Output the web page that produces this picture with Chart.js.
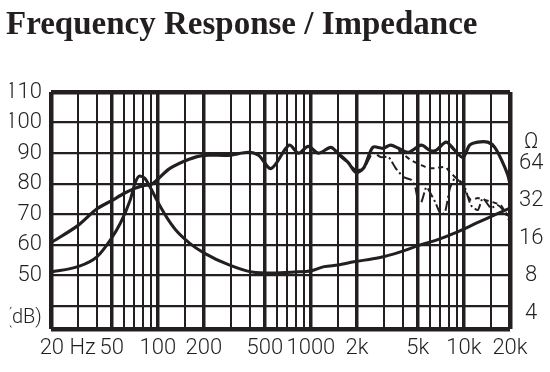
<!DOCTYPE html>
<html>
<head>
<meta charset="utf-8">
<script src="https://cdn.jsdelivr.net/npm/chart.js@4.4.1/dist/chart.umd.min.js"></script>
<style>
  body { margin: 0; background: #fff; }
  #wrap { width: 550px; height: 372px; }
</style>
</head>
<body>
<div id="wrap"><canvas id="frChart" width="550" height="372"></canvas></div>
<script>
// on-axis response (thick line)
const mainFreq = [20, 30, 40, 50, 60, 70, 80, 90, 100, 120, 160, 200, 290, 390, 455, 550, 720, 830, 960, 1120, 1350, 1500, 1750, 1970, 2220, 2540, 2950, 3320, 3740, 4340, 5260, 6010, 6570, 7650, 8720, 9860, 10900, 12300, 14300, 15900, 17900, 19300, 20000];
const mainSpl = [60.7, 66.3, 71.8, 74.5, 76.8, 78.4, 79.4, 79.7, 81.5, 85, 88, 89.3, 89.3, 90.3, 89.3, 85, 92.6, 90, 92.2, 90, 91.9, 90, 87, 83.7, 85.3, 91.9, 91.6, 92.6, 91.6, 90.3, 92.6, 90.9, 90.9, 93.6, 90.9, 88.6, 92.6, 93.6, 93.6, 91.9, 87, 83, 80];

// off-axis responses (thin lines)
const off1Freq = [1510, 1750, 1970, 2220, 2540, 2860, 3220, 3580, 4030, 4540, 4820, 5040, 5270, 5680, 6030, 6490, 7100, 7530, 8110, 8750, 9420, 10160, 11100, 12330, 13280, 14960, 16600, 18400, 20000];
const off1Spl = [89.4, 86.8, 84.5, 85.1, 90.1, 88.7, 88.7, 85.1, 82.2, 81.2, 78.6, 74.0, 74.0, 78.9, 77.0, 74.0, 69.8, 70.8, 78.6, 81.9, 80.6, 78.6, 73.0, 71.4, 75.3, 72.1, 73.0, 70.8, 67.5];

const off2Freq = [3740, 4480, 5270, 5850, 6490, 7530, 8110, 8870, 9560, 10300, 11100, 12330, 13680, 15400, 17370, 18650, 20000];
const off2Spl = [91.0, 87.8, 86.1, 85.1, 85.1, 85.5, 83.8, 81.9, 80.6, 77.0, 74.7, 75.3, 74.7, 74.0, 73.0, 70.8, 68.8];

// impedance (ohm)
const impFreq = [20, 30, 40, 49, 57, 66, 71, 76, 82, 89, 100, 113, 131, 161, 201, 292, 412, 555, 782, 1007, 1220, 1510, 1910, 2780, 3850, 5190, 6680, 9010, 12130, 15880, 20000];
const impOhm = [8.6, 9.5, 11.4, 15.6, 21.3, 32.6, 44.6, 50.8, 48.8, 41.4, 31.4, 24.2, 18.7, 14.7, 12.2, 9.8, 8.6, 8.45, 8.6, 8.8, 9.5, 9.8, 10.4, 11.2, 12.5, 14.2, 15.6, 18, 21.3, 24.7, 28.1];

// axes
const freqGrid = [20, 30, 40, 50, 60, 70, 80, 90, 100, 150, 200, 300, 400, 500, 600, 700, 800, 900, 1000, 1500, 2000, 3000, 4000, 5000, 6000, 7000, 8000, 9000, 10000, 15000, 20000];
const freqTicks = [20, 50, 100, 200, 500, 1000, 2000, 5000, 10000, 20000];
const freqLabels = ['\u2002\u2002\u200220 Hz', '50', '100', '200', '500', '1000', '2k', '5k', '10k', '20k'];
const splTicks = [32.5, 36, 40, 50, 60, 70, 80, 90, 100, 110];
const splLabels = ['', '(dB)', '', '50', '60', '70', '80', '90', '100', '110'];
const ohmTicks = [4, 8, 16, 32, 64, 93.5];
const ohmLabels = ['4', '8', '16', '32', '64', '\u03A9'];

const ink = '#231f20';
const tickFont = { family: "Roboto, 'Liberation Sans', sans-serif", size: 22, weight: '300' };
const unitFont = { family: "Roboto, 'Liberation Sans', sans-serif", size: 20, weight: '300' };

function pairs(xs, ys) {
    return xs.map((x, i) => ({ x: x, y: ys[i] }));
}

const ctx = document.getElementById('frChart').getContext('2d');

new Chart(ctx, {
    type: 'line',
    data: {
        datasets: [
            {
                label: 'Impedance',
                data: pairs(impFreq, impOhm),
                yAxisID: 'y2',
                borderColor: ink,
                borderWidth: 3,
                cubicInterpolationMode: 'monotone',
                pointRadius: 0
            },
            {
                label: 'Off-axis 1',
                data: pairs(off1Freq, off1Spl),
                borderColor: ink,
                borderWidth: 2,
                borderDash: [10, 3, 2, 3],
                tension: 0.2,
                pointRadius: 0
            },
            {
                label: 'Off-axis 2',
                data: pairs(off2Freq, off2Spl),
                borderColor: ink,
                borderWidth: 2,
                borderDash: [5, 4],
                tension: 0.2,
                pointRadius: 0
            },
            {
                label: 'Frequency response',
                data: pairs(mainFreq, mainSpl),
                borderColor: ink,
                borderWidth: 3.2,
                tension: 0.3,
                pointRadius: 0
            }
        ]
    },
    options: {
        responsive: false,
        animation: false,
        layout: { padding: { left: 6 } },
        plugins: {
            legend: { display: false },
            tooltip: { enabled: false },
            title: {
                display: true,
                text: 'Frequency Response / Impedance',
                align: 'start',
                color: ink,
                font: { family: "'Liberation Serif', 'DejaVu Serif', serif", size: 33, weight: 'bold', lineHeight: 1.2 },
                padding: { top: 6, bottom: 46.4 }
            }
        },
        scales: {
            x: {
                type: 'logarithmic',
                min: 20,
                max: 20000,
                afterBuildTicks: function(scale) {
                    scale.ticks = freqGrid.map(v => ({ value: v }));
                },
                afterFit: function(scale) { scale.height = 43; },
                border: { display: false },
                grid: {
                    drawTicks: false,
                    color: ink,
                    lineWidth: function(c) {
                        const v = c.tick && c.tick.value;
                        if (v === 20 || v === 20000) return 4.5;
                        return freqTicks.includes(v) ? 3.5 : 2;
                    }
                },
                ticks: {
                    autoSkip: false,
                    maxRotation: 0,
                    padding: 6,
                    color: ink,
                    font: tickFont,
                    callback: function(value) {
                        const i = freqTicks.indexOf(value);
                        return i >= 0 ? freqLabels[i] : '';
                    }
                }
            },
            y: {
                type: 'linear',
                position: 'left',
                min: 32.5,
                max: 110,
                afterBuildTicks: function(scale) {
                    scale.ticks = splTicks.map(v => ({ value: v }));
                },
                afterFit: function(scale) { scale.width = 41; },
                border: { display: false },
                grid: {
                    drawTicks: false,
                    color: function(c) {
                        return c.tick && c.tick.value === 36 ? 'rgba(0,0,0,0)' : ink;
                    },
                    lineWidth: function(c) {
                        const v = c.tick && c.tick.value;
                        if (v === 110 || v === 32.5) return 4.5;
                        return 2.2;
                    }
                },
                ticks: {
                    autoSkip: false,
                    padding: 9,
                    color: ink,
                    font: function(c) {
                        return c.tick && c.tick.value === 36 ? unitFont : tickFont;
                    },
                    callback: function(value) {
                        const i = splTicks.indexOf(value);
                        return i >= 0 ? splLabels[i] : '';
                    }
                }
            },
            y2: {
                type: 'logarithmic',
                position: 'right',
                min: 3,
                max: 240,
                afterBuildTicks: function(scale) {
                    scale.ticks = ohmTicks.map(v => ({ value: v }));
                },
                afterFit: function(scale) { scale.width = 40; },
                border: { display: false },
                grid: { display: false, drawTicks: false },
                ticks: {
                    autoSkip: false,
                    padding: 9,
                    crossAlign: 'center',
                    color: ink,
                    font: tickFont,
                    callback: function(value) {
                        const i = ohmTicks.indexOf(value);
                        return i >= 0 ? ohmLabels[i] : '';
                    }
                }
            }
        }
    }
});
</script>
</body>
</html>
